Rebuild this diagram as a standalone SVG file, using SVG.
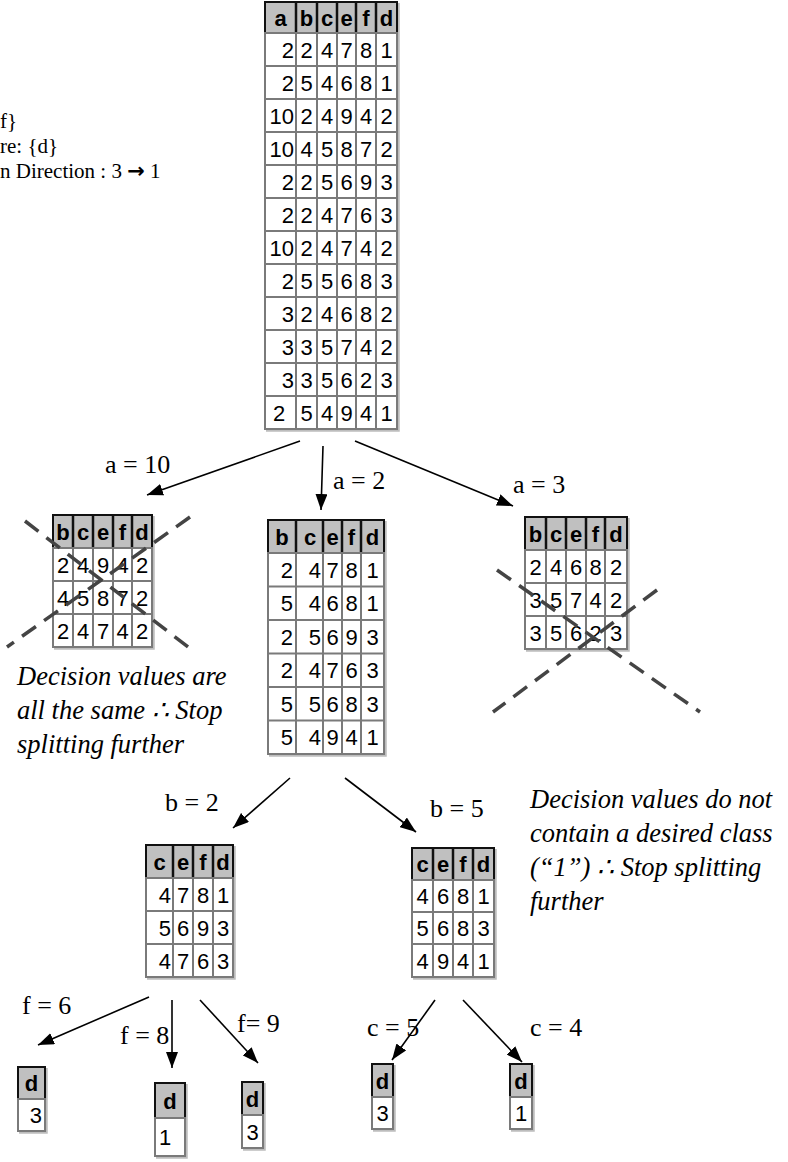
<svg xmlns="http://www.w3.org/2000/svg" width="788" height="1162" viewBox="0 0 788 1162">
<defs>
<style>
.hd{fill:#c0c0c0;stroke:#111;stroke-width:2}
.hl{fill:none;stroke:#111;stroke-width:2.5}
.bd{fill:#fff;stroke:#7a7a7a;stroke-width:2}
.gl{fill:none;stroke:#7a7a7a;stroke-width:2}
.sh{fill:none;stroke:#bdbdbd;stroke-width:2.5}
.ht{font-family:"Liberation Sans",Arial,sans-serif;font-weight:bold;font-size:22px;fill:#000;text-anchor:middle}
.dt{font-family:"Liberation Sans",Arial,sans-serif;font-size:22px;fill:#000;text-anchor:middle}
.de{font-family:"Liberation Sans",Arial,sans-serif;font-size:22px;fill:#000;text-anchor:end}
.ds{font-family:"Liberation Sans",Arial,sans-serif;font-size:22px;fill:#000;text-anchor:start}
.lb{font-family:"Liberation Serif","Times New Roman",serif;font-size:26px;fill:#000}
.nt{font-family:"Liberation Serif","Times New Roman",serif;font-style:italic;font-size:26.5px;fill:#000}
.tl{font-family:"Liberation Serif","Times New Roman",serif;font-size:21px;fill:#000}
.ar{font-family:"DejaVu Sans",sans-serif;font-weight:bold;font-size:21px}
.cn{fill:none;stroke:#000;stroke-width:1.6;marker-end:url(#ah)}
.x{fill:none;stroke:#444;stroke-width:3.5;stroke-dasharray:17 10}
</style>
<marker id="ah" viewBox="0 0 16 12" refX="16" refY="6" markerWidth="16" markerHeight="12" markerUnits="userSpaceOnUse" orient="auto">
<path d="M0,0 L16,6 L0,12 z" fill="#000"/>
</marker>
</defs>
<rect width="788" height="1162" fill="#fff"/>

<g id="notes-top">
<text class="tl" x="0" y="128">f}</text>
<text class="tl" x="0" y="153">re: {d}</text>
<text class="tl" x="0" y="178">n Direction : 3 <tspan class="ar">→</tspan> 1</text>
</g>

<g id="table-root">
<path class="sh" d="M398.5,3V430.5H266"/>
<rect class="hd" x="265" y="2" width="132" height="31"/>
<path class="hl" d="M296,2V33M317,2V33M337,2V33M356,2V33M376,2V33"/>
<rect class="bd" x="265" y="33" width="132" height="396"/>
<path class="gl" d="M296,33V429M317,33V429M337,33V429M356,33V429M376,33V429M265,66H397M265,99H397M265,132H397M265,165H397M265,198H397M265,231H397M265,264H397M265,297H397M265,330H397M265,363H397M265,396H397"/>
<text class="ht" x="280.5 306.5 327 346.5 366 386.5" y="25.5">abcefd</text>
<text class="de" x="294" y="57.5">2</text><text class="dt" x="306.5 327 346.5 366 386.5" y="57.5">24781</text>
<text class="de" x="294" y="90.5">2</text><text class="dt" x="306.5 327 346.5 366 386.5" y="90.5">54681</text>
<text class="de" x="294" y="123.5">10</text><text class="dt" x="306.5 327 346.5 366 386.5" y="123.5">24942</text>
<text class="de" x="294" y="156.5">10</text><text class="dt" x="306.5 327 346.5 366 386.5" y="156.5">45872</text>
<text class="de" x="294" y="189.5">2</text><text class="dt" x="306.5 327 346.5 366 386.5" y="189.5">25693</text>
<text class="de" x="294" y="222.5">2</text><text class="dt" x="306.5 327 346.5 366 386.5" y="222.5">24763</text>
<text class="de" x="294" y="255.5">10</text><text class="dt" x="306.5 327 346.5 366 386.5" y="255.5">24742</text>
<text class="de" x="294" y="288.5">2</text><text class="dt" x="306.5 327 346.5 366 386.5" y="288.5">55683</text>
<text class="de" x="294" y="321.5">3</text><text class="dt" x="306.5 327 346.5 366 386.5" y="321.5">24682</text>
<text class="de" x="294" y="354.5">3</text><text class="dt" x="306.5 327 346.5 366 386.5" y="354.5">35742</text>
<text class="de" x="294" y="387.5">3</text><text class="dt" x="306.5 327 346.5 366 386.5" y="387.5">35623</text>
<text class="ds" x="273" y="420.5">2</text><text class="dt" x="306.5 327 346.5 366 386.5" y="420.5">54941</text>
</g>

<g id="table-a10">
<path class="sh" d="M153.5,516V648.5H54"/>
<rect class="hd" x="53" y="515" width="99" height="33"/>
<path class="hl" d="M73,515V548M93,515V548M113,515V548M132,515V548"/>
<rect class="bd" x="53" y="548" width="99" height="99"/>
<path class="gl" d="M73,548V647M93,548V647M113,548V647M132,548V647M53,581H152M53,614H152"/>
<text class="ht" x="63 83 103 122.5 142" y="539.5">bcefd</text>
<text class="dt" x="63 83 103 122.5 142" y="572.5">24942</text>
<text class="dt" x="63 83 103 122.5 142" y="605.5">45872</text>
<text class="dt" x="63 83 103 122.5 142" y="638.5">24742</text>
</g>

<g id="table-a2">
<path class="sh" d="M385.5,521V755.5H269"/>
<rect class="hd" x="268" y="520" width="116" height="33"/>
<path class="hl" d="M296,520V553M323,520V553M342,520V553M361,520V553"/>
<rect class="bd" x="268" y="553" width="116" height="201"/>
<path class="gl" d="M296,553V754M323,553V754M342,553V754M361,553V754M268,586.5H384M268,620H384M268,653.5H384M268,687H384M268,720.5H384"/>
<text class="ht" x="282 310 332.5 351.5 372.5" y="544.5">bcefd</text>
<text class="de" x="293 321" y="577.5">24</text><text class="dt" x="332.5 351.5 372.5" y="577.5">781</text>
<text class="de" x="293 321" y="611">54</text><text class="dt" x="332.5 351.5 372.5" y="611">681</text>
<text class="de" x="293 321" y="644.5">25</text><text class="dt" x="332.5 351.5 372.5" y="644.5">693</text>
<text class="de" x="293 321" y="678">24</text><text class="dt" x="332.5 351.5 372.5" y="678">763</text>
<text class="de" x="293 321" y="711.5">55</text><text class="dt" x="332.5 351.5 372.5" y="711.5">683</text>
<text class="de" x="293 321" y="745">54</text><text class="dt" x="332.5 351.5 372.5" y="745">941</text>
</g>

<g id="table-a3">
<path class="sh" d="M628.5,518V650.5H526"/>
<rect class="hd" x="525" y="517" width="102" height="33"/>
<path class="hl" d="M546,517V550M566,517V550M586,517V550M605,517V550"/>
<rect class="bd" x="525" y="550" width="102" height="99"/>
<path class="gl" d="M546,550V649M566,550V649M586,550V649M605,550V649M525,583H627M525,616H627"/>
<text class="ht" x="535.5 556 576 595.5 616" y="541.5">bcefd</text>
<text class="dt" x="535.5 556 576 595.5 616" y="574.5">24682</text>
<text class="dt" x="535.5 556 576 595.5 616" y="607.5">35742</text>
<text class="dt" x="535.5 556 576 595.5 616" y="640.5">35623</text>
</g>

<g id="table-b2">
<path class="sh" d="M234.5,846V978.5H147"/>
<rect class="hd" x="146" y="845" width="87" height="33"/>
<path class="hl" d="M173,845V878M193,845V878M213,845V878"/>
<rect class="bd" x="146" y="878" width="87" height="99"/>
<path class="gl" d="M173,878V977M193,878V977M213,878V977M146,911H233M146,944H233"/>
<text class="ht" x="159.5 183 203 223" y="869.5">cefd</text>
<text class="de" x="171" y="902.5">4</text><text class="dt" x="183 203 223" y="902.5">781</text>
<text class="de" x="171" y="935.5">5</text><text class="dt" x="183 203 223" y="935.5">693</text>
<text class="de" x="171" y="968.5">4</text><text class="dt" x="183 203 223" y="968.5">763</text>
</g>

<g id="table-b5">
<path class="sh" d="M495.5,849V978.5H413"/>
<rect class="hd" x="412" y="848" width="82" height="32"/>
<path class="hl" d="M433,848V880M453,848V880M473,848V880"/>
<rect class="bd" x="412" y="880" width="82" height="97"/>
<path class="gl" d="M433,880V977M453,880V977M473,880V977M412,912H494M412,944H494"/>
<text class="ht" x="422.5 443 463 483.5" y="872">cefd</text>
<text class="dt" x="422.5 443 463 483.5" y="904">4681</text>
<text class="dt" x="422.5 443 463 483.5" y="936">5683</text>
<text class="dt" x="422.5 443 463 483.5" y="968.5">4941</text>
</g>

<g id="leaf-f6">
<path class="sh" d="M46.5,1068V1132.5H19"/>
<rect class="hd" x="18" y="1067" width="27" height="32"/>
<rect class="bd" x="18" y="1099" width="27" height="32"/>
<text class="ht" x="31.5" y="1091">d</text>
<text class="de" x="42" y="1123">3</text>
</g>
<g id="leaf-f8">
<path class="sh" d="M186.5,1084V1157.5H156"/>
<rect class="hd" x="155" y="1083" width="30" height="35"/>
<rect class="bd" x="155" y="1118" width="30" height="38"/>
<text class="ht" x="170" y="1108.5">d</text>
<text class="ds" x="159" y="1145">1</text>
</g>
<g id="leaf-f9">
<path class="sh" d="M264.5,1083V1149.5H243"/>
<rect class="hd" x="242" y="1082" width="21" height="33"/>
<rect class="bd" x="242" y="1115" width="21" height="33"/>
<text class="ht" x="252.5" y="1106.5">d</text>
<text class="dt" x="252.5" y="1139.5">3</text>
</g>
<g id="leaf-c5">
<path class="sh" d="M394.5,1065V1130.5H373"/>
<rect class="hd" x="372" y="1064" width="21" height="33"/>
<rect class="bd" x="372" y="1097" width="21" height="32"/>
<text class="ht" x="382.5" y="1088.5">d</text>
<text class="dt" x="382.5" y="1121">3</text>
</g>
<g id="leaf-c4">
<path class="sh" d="M533.5,1065V1130.5H511"/>
<rect class="hd" x="510" y="1064" width="22" height="33"/>
<rect class="bd" x="510" y="1097" width="22" height="32"/>
<text class="ht" x="521" y="1088.5">d</text>
<text class="dt" x="521" y="1121">1</text>
</g>

<g id="crosses">
<path class="x" d="M25,521L188,647M190,517L7,647"/>
<path class="x" d="M497,570L700,712M657,590L493,712"/>
</g>

<g id="connectors">
<path class="cn" d="M300,441L147,495"/>
<path class="cn" d="M323,446L321,510"/>
<path class="cn" d="M355,441L513,506"/>
<path class="cn" d="M290,778L233,828"/>
<path class="cn" d="M345,778L416,832"/>
<path class="cn" d="M149,997L38,1045"/>
<path class="cn" d="M172,1000L172,1068"/>
<path class="cn" d="M200,1000L258,1063"/>
<path class="cn" d="M435,1000L392,1060"/>
<path class="cn" d="M463,1000L522,1062"/>
</g>

<g id="labels">
<text class="lb" x="105" y="473">a = 10</text>
<text class="lb" x="333" y="489">a = 2</text>
<text class="lb" x="513" y="493">a = 3</text>
<text class="lb" x="165" y="811">b = 2</text>
<text class="lb" x="430" y="817">b = 5</text>
<text class="lb" x="22" y="1014">f = 6</text>
<text class="lb" x="120" y="1044">f = 8</text>
<text class="lb" x="237" y="1032">f= 9</text>
<text class="lb" x="367" y="1036">c = 5</text>
<text class="lb" x="530" y="1036">c = 4</text>
</g>

<g id="notes">
<text class="nt" x="17" y="685">Decision values are</text>
<text class="nt" x="17" y="719">all the same ∴ Stop</text>
<text class="nt" x="17" y="753">splitting further</text>
<text class="nt" x="530" y="808">Decision values do not</text>
<text class="nt" x="530" y="842">contain a desired class</text>
<text class="nt" x="530" y="876">(“1”) ∴ Stop splitting</text>
<text class="nt" x="530" y="910">further</text>
</g>
</svg>
